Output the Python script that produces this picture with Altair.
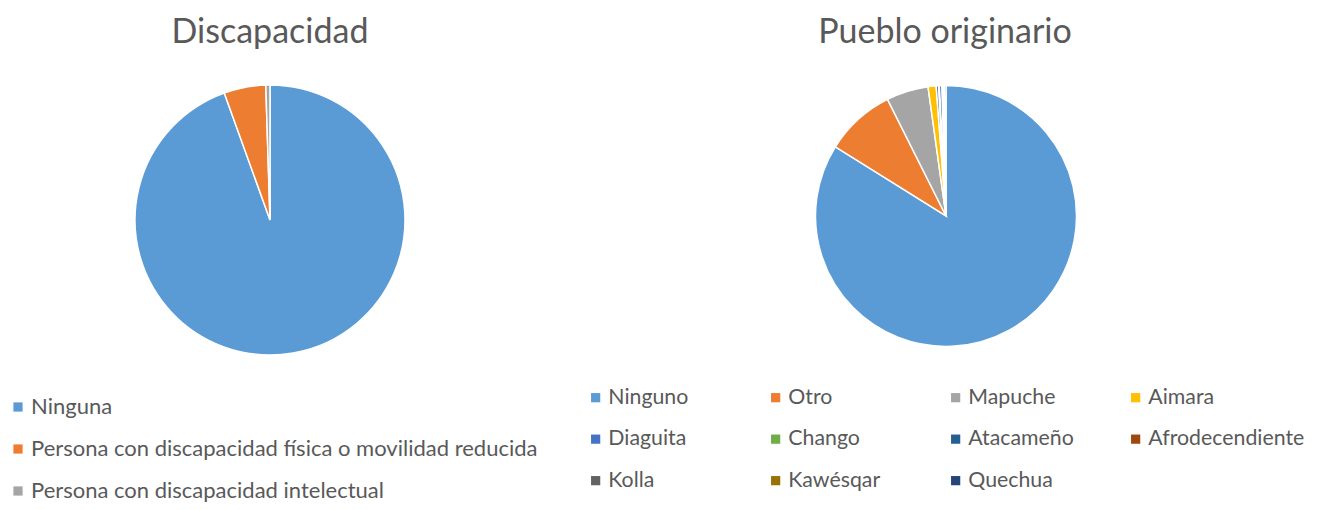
import altair as alt
import pandas as pd

titles = ["Discapacidad", "Pueblo originario"]

dis_cat = ["Ninguna",
           "Persona con discapacidad física o movilidad reducida",
           "Persona con discapacidad intelectual"]
dis_val = [94.5, 5.0, 0.5]
dis_col = ["#5B9BD5", "#ED7D31", "#A5A5A5"]

pue_cat = ["Ninguno", "Otro", "Mapuche", "Aimara",
           "Diaguita", "Chango", "Atacameño", "Afrodecendiente",
           "Kolla", "Kawésqar", "Quechua"]
pue_val = [83.9, 8.7, 5.2, 1.0, 0.3, 0.1, 0.3, 0.1, 0.1, 0.1, 0.2]
pue_col = ["#5B9BD5", "#ED7D31", "#A5A5A5", "#FFC000",
           "#4472C4", "#70AD47", "#255E91", "#9E480E",
           "#636363", "#997300", "#264478"]

FONT = "Lato"
TXT = "#595959"

df1 = pd.DataFrame({"cat": dis_cat, "v": dis_val, "i": range(len(dis_cat))})
df2 = pd.DataFrame({"cat": pue_cat, "v": pue_val, "i": range(len(pue_cat))})

leg_common = dict(orient="none", title=None, padding=0,
                  symbolType="square", symbolSize=85, symbolStrokeWidth=0,
                  labelFont=FONT, labelColor=TXT,
                  labelOffset=2, labelLimit=800)

leg1 = alt.Legend(legendX=-1, legendY=388, rowPadding=20, labelFontSize=22,
                  direction="vertical", **leg_common)
leg2 = alt.Legend(legendX=577, legendY=379, rowPadding=19.5, columns=4,
                  labelFontSize=21.3,
                  direction="horizontal", columnPadding=0, gridAlign="all",
                  **leg_common)


def pie(df, cats, cols, cx, cy, r, legend):
    return alt.Chart(df).mark_arc(radius=r, stroke="white", strokeWidth=1.5).encode(
        x=alt.value(cx), y=alt.value(cy),
        theta=alt.Theta("v:Q", stack=True),
        color=alt.Color("cat:N", scale=alt.Scale(domain=cats, range=cols),
                        sort=cats, legend=legend),
        order=alt.Order("i:Q", sort="ascending"),
    )


def title(t, cx):
    return alt.Chart(pd.DataFrame({"t": [t]})).mark_text(
        font=FONT, fontSize=34, color=TXT, align="center", baseline="alphabetic"
    ).encode(x=alt.value(cx), y=alt.value(35), text="t:N")


p1 = pie(df1, dis_cat, dis_col, 262, 212, 135, leg1)
p2 = pie(df2, pue_cat, pue_col, 938, 208, 130.5, leg2)

chart = alt.layer(p1, p2, title(titles[0], 262), title(titles[1], 937)).resolve_scale(
    color="independent", theta="independent"
).properties(
    width=1313, height=494,
    autosize=alt.AutoSizeParams(type="none"), padding=0
).configure_view(stroke=None)

chart.save("out.html", embed_options={"renderer": "svg", "actions": False})
